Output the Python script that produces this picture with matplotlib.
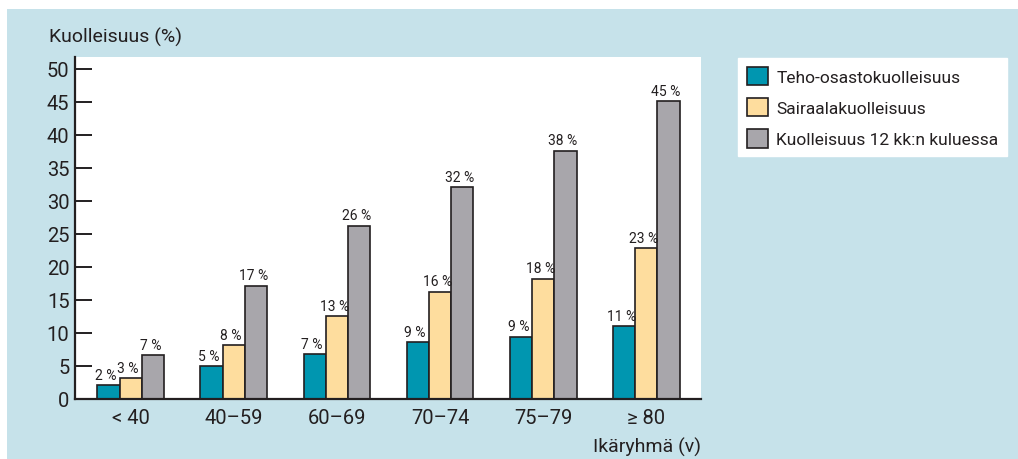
import matplotlib
matplotlib.use('Agg')
from matplotlib import pyplot as plt
from matplotlib.patches import Rectangle
import numpy as np

plt.rcParams['font.family'] = ['Roboto', 'DejaVu Sans']

# data
age_groups = ['< 40', '40–59', '60–69', '70–74', '75–79', '≥ 80']
icu = [2.05, 4.9, 6.75, 8.6, 9.4, 11.0]
hospital = [3.1, 8.1, 12.5, 16.2, 18.2, 22.8]
one_year = [6.6, 17.1, 26.2, 32.1, 37.6, 45.1]
icu_labels = [2, 5, 7, 9, 9, 11]
hospital_labels = [3, 8, 13, 16, 18, 23]
one_year_labels = [7, 17, 26, 32, 38, 45]
series_names = ['Teho-osastokuolleisuus', 'Sairaalakuolleisuus', 'Kuolleisuus 12 kk:n kuluessa']
y_ticks = [0, 5, 10, 15, 20, 25, 30, 35, 40, 45, 50]

colors = ['#0096b0', '#fedd9e', '#a8a6ab']
edge = '#231f20'
panel = '#c6e2ea'

fig = plt.figure(figsize=(10.18, 4.6), dpi=100, facecolor='white')
fig.patches.append(Rectangle((7 / 1018, 0), 1, 450 / 460, transform=fig.transFigure,
                             facecolor=panel, edgecolor='none', zorder=-10))

ax = fig.add_axes([75 / 1018, 60.5 / 460, 626 / 1018, 341.5 / 460])
ax.set_facecolor('white')

x = np.arange(len(age_groups))
w = 0.216
handles = []
for i, (vals, labs) in enumerate(zip([icu, hospital, one_year],
                                     [icu_labels, hospital_labels, one_year_labels])):
    pos = x + (i - 1) * w
    b = ax.bar(pos, vals, w, color=colors[i], edgecolor=edge, linewidth=1.2,
               label=series_names[i], zorder=2)
    handles.append(b)
    for px, v, l in zip(pos, vals, labs):
        ax.text(px - 0.025, v + 0.5, f'{l} %', ha='center', va='bottom', fontsize=10,
                color=edge)

ax.set_xlim(-0.54, 5.53)
ax.set_ylim(0, 51.8)
ax.set_yticks(y_ticks)
ax.set_xticks(x)
ax.set_xticklabels(age_groups, fontsize=14.5, color=edge)
ax.tick_params(axis='y', direction='in', length=12, width=1.4, colors=edge,
               labelsize=14.5, pad=4)
ax.tick_params(axis='x', length=0, pad=7)
for s in ['top', 'right']:
    ax.spines[s].set_visible(False)
for s in ['left', 'bottom']:
    ax.spines[s].set_linewidth(1.6)
    ax.spines[s].set_color(edge)

fig.text(49 / 1018, 1 - 37 / 460, 'Kuolleisuus (%)', fontsize=14, color=edge,
         ha='left', va='center')
fig.text(701 / 1018, 1 - 447 / 460, 'Ikäryhmä (v)', fontsize=14, color=edge,
         ha='right', va='center')

leg = fig.legend(handles=handles, loc='upper left', bbox_to_anchor=(738 / 1018, 1 - 59 / 460),
                 frameon=True, fancybox=False, fontsize=12.5, handlelength=1.2,
                 handleheight=1.25, handletextpad=0.5, labelspacing=0.75,
                 borderpad=0.5, borderaxespad=0)
leg.get_frame().set_edgecolor('white')
leg.get_frame().set_facecolor('white')
leg.get_frame().set_alpha(1)
for t in leg.get_texts():
    t.set_color(edge)

plt.savefig('out.png', dpi=100)
